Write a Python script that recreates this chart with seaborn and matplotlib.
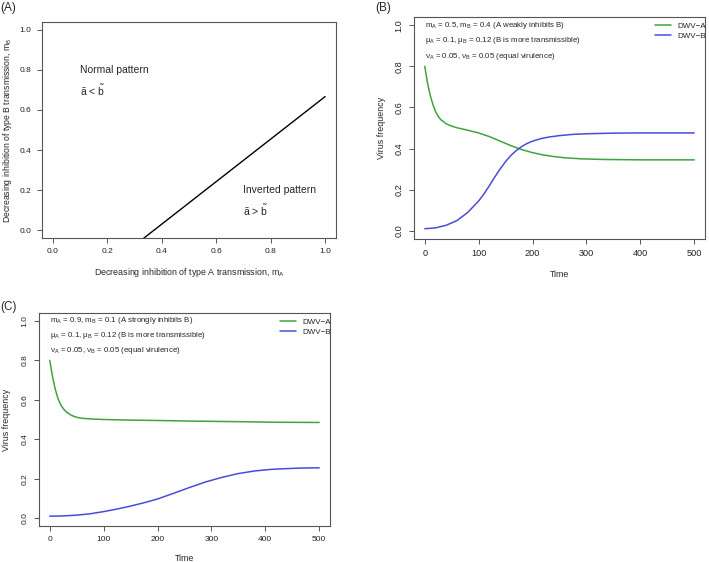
import numpy as np
import pandas as pd
import matplotlib
matplotlib.use("Agg")
import matplotlib.pyplot as plt
import seaborn as sns

# ---- data ----
# panel A: boundary line between normal / inverted pattern
mA_line = [0.33, 1.0]
mB_line = [-0.045, 0.667]

# panel B: mA=0.5, mB=0.4
tB_a = [0, 5, 10, 15, 20, 25, 30, 40, 50, 60, 80, 100, 120, 140, 160, 180, 200, 220, 240, 260,
        290, 330, 400, 500]
vB_a = [0.80, 0.72, 0.66, 0.615, 0.58, 0.556, 0.54, 0.52, 0.509, 0.501, 0.489, 0.476, 0.458, 0.436,
        0.414, 0.395, 0.380, 0.369, 0.361, 0.355, 0.350, 0.347, 0.345, 0.345]
tB_b = [0, 20, 40, 60, 80, 100, 110, 120, 130, 140, 150, 160, 170, 180, 190, 200, 215, 230, 250,
        275, 300, 350, 400, 500]
vB_b = [0.010, 0.014, 0.027, 0.050, 0.090, 0.145, 0.180, 0.220, 0.262, 0.301, 0.337, 0.367, 0.391,
        0.410, 0.425, 0.436, 0.448, 0.456, 0.463, 0.469, 0.472, 0.475, 0.476, 0.476]

# panel C: mA=0.9, mB=0.1
tC_a = [0, 3, 6, 10, 15, 20, 25, 30, 40, 50, 60, 75, 100, 150, 200, 260, 350, 420, 500]
vC_a = [0.80, 0.75, 0.705, 0.655, 0.608, 0.576, 0.555, 0.540, 0.521, 0.511, 0.506, 0.503, 0.500,
        0.497, 0.495, 0.492, 0.489, 0.486, 0.485]
tC_b = [0, 25, 50, 75, 100, 125, 150, 175, 200, 230, 260, 290, 320, 350, 380, 410, 440, 470, 500]
vC_b = [0.010, 0.011, 0.015, 0.022, 0.033, 0.046, 0.061, 0.078, 0.097, 0.126, 0.156, 0.184, 0.207,
        0.226, 0.239, 0.247, 0.251, 0.254, 0.255]

series_names = ["DWV\u2212A", "DWV\u2212B"]
palette = {"DWV\u2212A": "#3fa33f", "DWV\u2212B": "#4b4bdb"}

textB = [r"m$_A$ = 0.5, m$_B$ = 0.4 (A weakly inhibits B)",
         "\u03bc$_A$ = 0.1, \u03bc$_B$ = 0.12 (B is more transmissible)",
         "\u03bd$_A$ = 0.05, \u03bd$_B$ = 0.05 (equal virulence)"]
textC = [r"m$_A$ = 0.9, m$_B$ = 0.1 (A strongly inhibits B)",
         "\u03bc$_A$ = 0.1, \u03bc$_B$ = 0.12 (B is more transmissible)",
         "\u03bd$_A$ = 0.05, \u03bd$_B$ = 0.05 (equal virulence)"]

sns.set_style("ticks")
plt.rcParams["font.family"] = ["Liberation Sans", "DejaVu Sans"]
plt.rcParams["mathtext.default"] = "regular"
plt.rcParams["axes.edgecolor"] = "#555555"
plt.rcParams["axes.linewidth"] = 0.8

fig = plt.figure(figsize=(7.09, 5.62), dpi=100)
W, H = 709, 562


def box(l, t, r, b):
    return [l / W, 1 - b / H, (r - l) / W, (b - t) / H]


def style_axis(ax, rot_y, size):
    ax.tick_params(axis="both", length=3.5, width=0.7, color="#555555", labelsize=size, pad=4,
                   labelcolor="#222222")
    if rot_y:
        ax.tick_params(axis="y", labelrotation=90)
        for lb in ax.get_yticklabels():
            lb.set_va("center")
    for s in ax.spines.values():
        s.set_visible(True)


# ---- panel A ----
axA = fig.add_axes(box(42, 22, 336, 238))
dfA = pd.DataFrame({"mA": mA_line, "mB": mB_line})
sns.lineplot(data=dfA, x="mA", y="mB", color="black", lw=1.0, ax=axA)
axA.set_xlim(-0.04, 1.04)
axA.set_ylim(-0.04, 1.04)
ticks = np.arange(0, 1.01, 0.2)
axA.set_xticks(ticks)
axA.set_yticks(ticks)
axA.set_xticklabels([f"{v:.1f}" for v in ticks])
axA.set_yticklabels([f"{v:.1f}" for v in ticks])
style_axis(axA, False, 6)
axA.set_xlabel("Decreasing inhibition of type A transmission, m$_A$", fontsize=6.4)
axA.set_ylabel("Decreasing inhibition of type B transmission, m$_B$", fontsize=6.2)
axA.xaxis.set_label_coords(0.5, -0.162)
axA.yaxis.set_label_coords(-0.116, 0.5)
axA.xaxis.label.set_va("center")
axA.yaxis.label.set_va("center")
axA.text(0.1, 0.8, "Normal pattern", fontsize=7.5, va="center", ha="left")
axA.text(0.1, 0.7, "\u00e3 < $\\tilde{b}$", fontsize=7.5, va="center", ha="left")
axA.text(0.7, 0.2, "Inverted pattern", fontsize=7.5, va="center", ha="left")
axA.text(0.7, 0.1, "\u00e3 > $\\tilde{b}$", fontsize=7.5, va="center", ha="left")


def sim_panel(ax, ta, va, tb, vb, texts, xlab_y, ylab_x, tsize, asize):
    df = pd.concat([
        pd.DataFrame({"Time": ta, "freq": va, "virus": series_names[0]}),
        pd.DataFrame({"Time": tb, "freq": vb, "virus": series_names[1]}),
    ])
    sns.lineplot(data=df, x="Time", y="freq", hue="virus", palette=palette, lw=1.1, ax=ax)
    ax.set_xlim(-20, 520)
    ax.set_ylim(-0.04, 1.04)
    ax.set_xticks([0, 100, 200, 300, 400, 500])
    ax.set_yticks(ticks)
    ax.set_yticklabels([f"{v:.1f}" for v in ticks])
    style_axis(ax, True, tsize)
    ax.set_xlabel("Time", fontsize=6.4)
    ax.set_ylabel("Virus frequency", fontsize=6.4)
    ax.xaxis.set_label_coords(0.5, xlab_y)
    ax.yaxis.set_label_coords(ylab_x, 0.5)
    ax.xaxis.label.set_va("center")
    ax.yaxis.label.set_va("center")
    for i, s in enumerate(texts):
        ax.text(0, 1.0 - 0.075 * i, s, fontsize=asize, va="center", ha="left")
    sns.move_legend(ax, "upper right", bbox_to_anchor=(1.005, 0.975), frameon=False, title=None,
                    fontsize=5.8, handlelength=2.0, handletextpad=0.8, labelspacing=0.25,
                    borderaxespad=0.0, borderpad=0.0)


# ---- panel B ----
axB = fig.add_axes(box(414, 17, 705, 239))
sim_panel(axB, tB_a, vB_a, tB_b, vB_b, textB, -0.162, -0.11, 6.6, 5.7)

# ---- panel C ----
axC = fig.add_axes(box(39, 313, 330, 526))
sim_panel(axC, tC_a, vC_a, tC_b, vC_b, textC, -0.152, -0.112, 6.0, 5.7)

fig.text(0.0, 1 - 8 / H, "(A)", fontsize=8.5, va="center", ha="left")
fig.text(375 / W, 1 - 8 / H, "(B)", fontsize=8.5, va="center", ha="left")
fig.text(0.0, 1 - 307 / H, "(C)", fontsize=8.5, va="center", ha="left")

fig.savefig("out.png", dpi=100)
